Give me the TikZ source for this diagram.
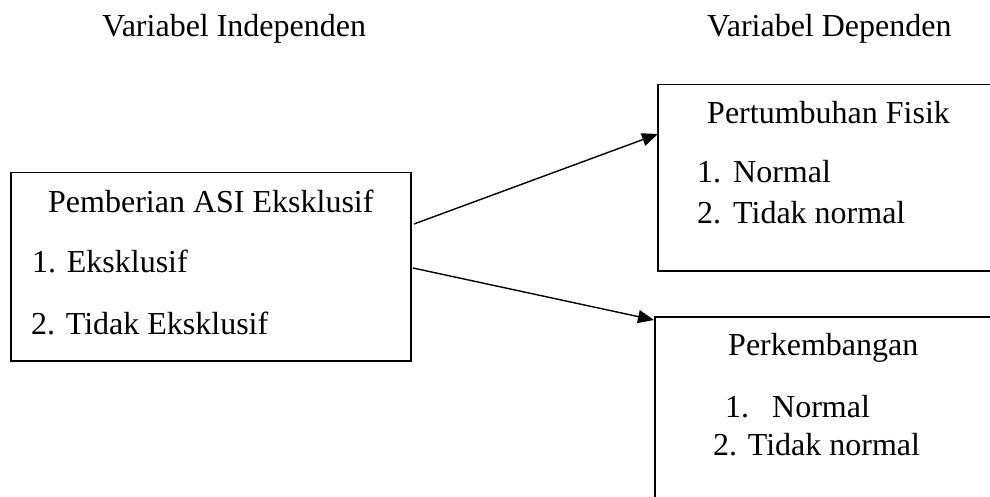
\documentclass[tikz,border=0pt]{standalone}
\usepackage{fontspec}
\setmainfont{Liberation Serif}
\usetikzlibrary{arrows.meta}
\begin{document}
\begin{tikzpicture}[x=1pt,y=-1pt,
  box/.style={draw=black,line width=1.5pt,rectangle,inner sep=0pt,anchor=north west},
  txt/.style={anchor=base west,inner sep=0pt,font=\fontsize{32}{38}\selectfont},
  arr/.style={line width=1.4pt,-{Triangle[length=16pt,width=13pt]}}]
\clip (0,0) rectangle (990,497);
\useasboundingbox (0,0) rectangle (990,497);
% boxes
\node[box,minimum width=400pt,minimum height=188pt] (L) at (10,172) {};
\node[box,minimum width=443pt,minimum height=186pt] (T) at (657,84) {};
\node[box,minimum width=443pt,minimum height=290pt] (B) at (654,316) {};
% headings
\node[txt] (h1) at (102,37) {Variabel Independen};
\node[txt] (h2) at (707,37) {Variabel Dependen};
% left box texts
\node[txt] (l0) at (48,212) {Pemberian ASI Eksklusif};
\node[txt] (l1) at (32,272) {1. Eksklusif};
\node[txt] (l2) at (31,334) {2. Tidak Eksklusif};
% top right texts
\node[txt] (t0) at (707,124) {Pertumbuhan Fisik};
\node[txt] (t1) at (697,183) {\makebox[36pt][l]{1.}Normal};
\node[txt] (t2) at (697,223) {\makebox[36pt][l]{2.}Tidak normal};
% bottom right texts
\node[txt] (b0) at (728,355) {Perkembangan};
\node[txt] (b1) at (725,417) {\makebox[47pt][l]{1.}Normal};
\node[txt] (b2) at (713,455) {2. Tidak normal};
% connectors
\coordinate (s1) at (414,224);
\coordinate (e1) at (658,134);
\coordinate (s2) at (413,268);
\coordinate (e2) at (654,320);
\draw[arr] (s1) -- (e1);
\draw[arr] (s2) -- (e2);
\end{tikzpicture}
\end{document}
